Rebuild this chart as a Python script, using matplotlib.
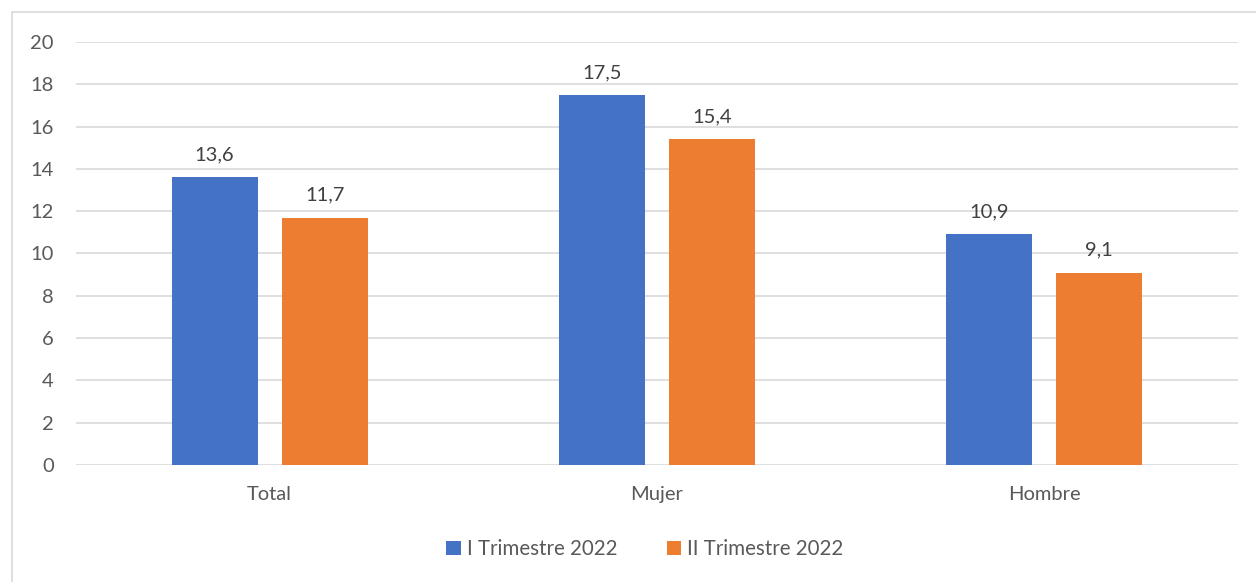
import numpy as np
import matplotlib.pyplot as plt
from matplotlib.patches import Rectangle

plt.rcParams['font.family'] = ['Lato', 'DejaVu Sans']

categories = ['Total', 'Mujer', 'Hombre']
series_names = ['I Trimestre 2022', 'II Trimestre 2022']
q1 = [13.6, 17.5, 10.9]
q2 = [11.7, 15.4, 9.1]
colors = ['#4472C4', '#ED7D31']
text_col = '#595959'

fig = plt.figure(figsize=(12.56, 5.82), dpi=100)
ax = fig.add_axes([76/1256, 1 - 465/582, 1162/1256, 423/582])

# outer chart border (light gray, clipped at right/bottom)
fig.patches.append(Rectangle((12/1256, -0.05), 1.1, 1 - 12/582 + 0.05,
                             transform=fig.transFigure, fill=False,
                             edgecolor='#d9d9d9', lw=1.2))

x = np.arange(len(categories))
w = 0.222
off = 0.142
b1 = ax.bar(x - off, q1, w, color=colors[0], label=series_names[0], zorder=3)
b2 = ax.bar(x + off, q2, w, color=colors[1], label=series_names[1], zorder=3)

for bars, vals in ((b1, q1), (b2, q2)):
    for r, v in zip(bars, vals):
        ax.annotate(f'{v:.1f}'.replace('.', ','),
                    (r.get_x() + r.get_width() / 2, v),
                    xytext=(0, 10), textcoords='offset points',
                    ha='center', va='bottom', fontsize=14.5, color='#404040')

ax.set_xlim(-0.5, 2.5)
ax.set_ylim(0, 20)
ax.set_yticks(np.arange(0, 21, 2))
ax.set_xticks(x)
ax.set_xticklabels(categories)
ax.tick_params(axis='both', length=0, labelsize=14.5, colors=text_col)
ax.tick_params(axis='y', pad=16)
ax.tick_params(axis='x', pad=15)
ax.grid(axis='y', color='#d9d9d9', lw=1.2, zorder=0)
for s in ax.spines.values():
    s.set_visible(False)

leg = fig.legend(loc='center', bbox_to_anchor=(645/1256, 1 - 549/582), ncol=2,
                 frameon=False, fontsize=14.8, handlelength=0.7, handleheight=0.7,
                 handletextpad=0.3, columnspacing=2.4)
for t in leg.get_texts():
    t.set_color(text_col)

fig.savefig('out.png', dpi=100)
